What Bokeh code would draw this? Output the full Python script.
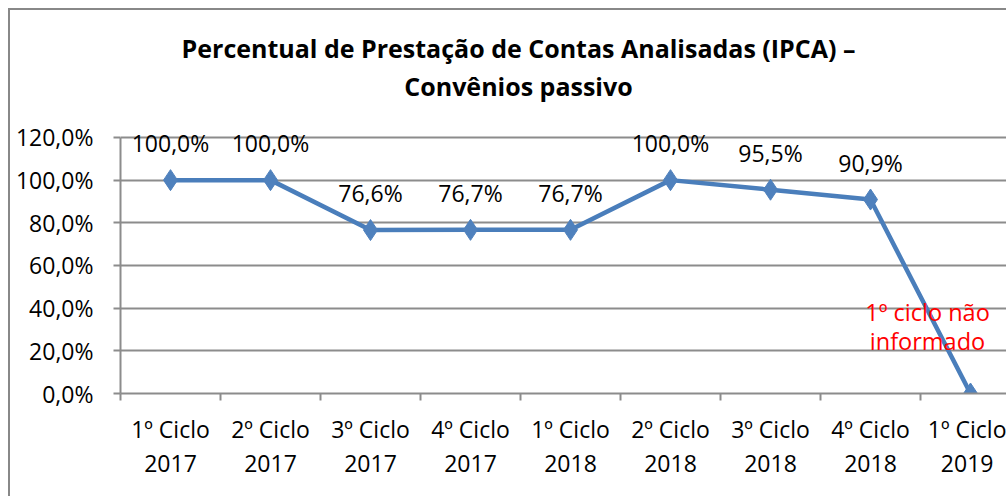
from bokeh.plotting import figure
from bokeh.models import Range1d, FixedTicker, LabelSet, Label, ColumnDataSource
from bokeh.core.properties import value
from bokeh.embed import file_html
from bokeh.resources import INLINE

categories = ["1º Ciclo\n2017", "2º Ciclo\n2017", "3º Ciclo\n2017", "4º Ciclo\n2017",
              "1º Ciclo\n2018", "2º Ciclo\n2018", "3º Ciclo\n2018", "4º Ciclo\n2018",
              "1º Ciclo\n2019"]
values = [1.000, 1.000, 0.766, 0.767, 0.767, 1.000, 0.955, 0.909, 0.0]
value_labels = ["100,0%", "100,0%", "76,6%", "76,7%", "76,7%", "100,0%", "95,5%", "90,9%", ""]
y_ticks = [0.0, 0.2, 0.4, 0.6, 0.8, 1.0, 1.2]
y_tick_labels = ["0,0%", "20,0%", "40,0%", "60,0%", "80,0%", "100,0%", "120,0%"]
title_lines = ["Percentual de Prestação de Contas Analisadas (IPCA) –", "Convênios passivo"]
note_lines = ["1º ciclo não", "informado"]

FONT = "Open Sans"
BLUE = "#4A7EBB"
GRAY = "#8C8C8C"

xs = [i + 0.5 for i in range(len(categories))]
src = ColumnDataSource(dict(x=xs, y=values, lab=value_labels))

p = figure(width=998, height=488, output_backend="svg", toolbar_location=None,
           x_range=Range1d(0, 8.88), y_range=Range1d(0, 1.795),
           min_border_left=110, min_border_right=0, min_border_top=0,
           min_border_bottom=105)
p.styles = {"margin-left": "8px", "margin-top": "8px",
            "border-left": "2px solid #888888", "border-top": "2px solid #888888"}
p.outline_line_color = None
p.background_fill_color = "white"
p.border_fill_color = "white"

p.xgrid.grid_line_color = None
p.ygrid.grid_line_color = GRAY
p.ygrid.grid_line_width = 2

# x axis: labels centered on categories, ticks on boundaries
xa = p.xaxis[0]
xa.ticker = FixedTicker(ticks=xs, minor_ticks=list(range(len(categories) + 1)))
xa.major_label_overrides = {x: c for x, c in zip(xs, categories)}
xa.major_tick_in = 0
xa.major_tick_out = 0
xa.minor_tick_in = 0
xa.minor_tick_out = 7
xa.minor_tick_line_color = GRAY
xa.minor_tick_line_width = 2
xa.axis_line_color = GRAY
xa.axis_line_width = 2
xa.major_label_text_font = FONT
xa.major_label_text_font_size = "23px"
xa.major_label_text_color = "black"
xa.major_label_text_line_height = 1.08
xa.major_label_standoff = 12

ya = p.yaxis[0]
ya.ticker = FixedTicker(ticks=y_ticks, minor_ticks=[])
ya.bounds = (0, 1.2)
ya.major_label_overrides = {t: l for t, l in zip(y_ticks, y_tick_labels)}
ya.major_tick_in = 0
ya.major_tick_out = 7
ya.major_tick_line_color = GRAY
ya.major_tick_line_width = 2
ya.axis_line_color = GRAY
ya.axis_line_width = 2
ya.major_label_text_font = FONT
ya.major_label_text_font_size = "23px"
ya.major_label_text_color = "black"
ya.major_label_standoff = 20

p.line("x", "y", source=src, line_color=BLUE, line_width=4.5)
p.scatter("x", "y", source=src, marker="diamond", size=21, fill_color="#4F81BD",
          line_color="#4F81BD")

labels = LabelSet(x="x", y="y", text="lab", source=src, y_offset=37,
                  text_align="center", text_baseline="middle",
                  text_font=value(FONT), text_font_size=value("23px"), text_color="black")
p.add_layout(labels)

for t, yy in zip(title_lines, [1.617, 1.442]):
    p.add_layout(Label(x=3.98, y=yy, text=t, text_align="center", text_baseline="middle",
                       text_font=FONT, text_font_size="25px", text_font_style="bold",
                       text_color="black"))

for t, yy in zip(note_lines, [0.384, 0.244]):
    p.add_layout(Label(x=8.07, y=yy, text=t, text_align="center", text_baseline="middle",
                       text_font=FONT, text_font_size="23.5px", text_color="#FF0000"))

open("out.html", "w").write(file_html(p, INLINE))
